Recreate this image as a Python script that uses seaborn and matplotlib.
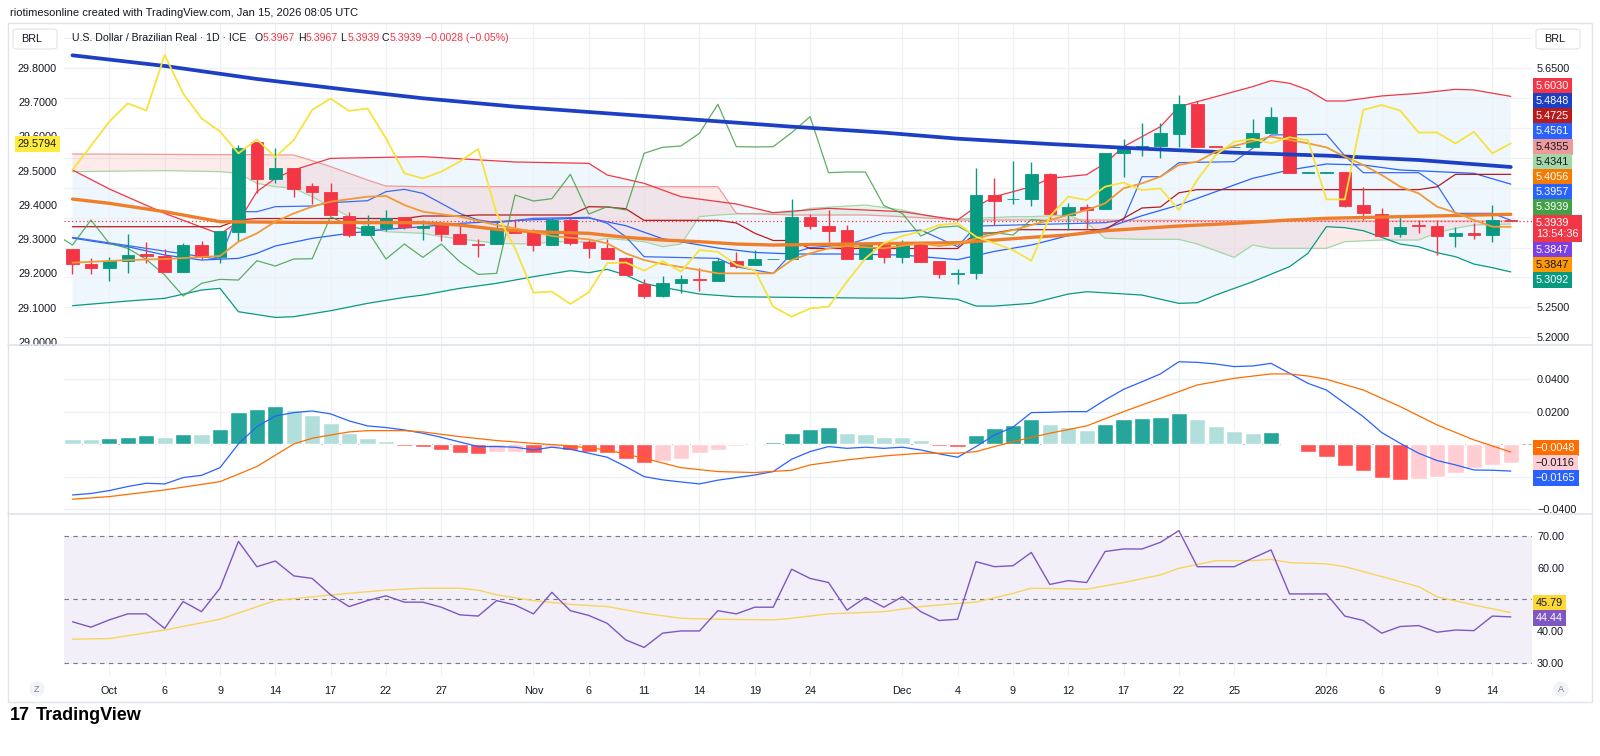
import numpy as np
import pandas as pd
import matplotlib
matplotlib.use('Agg')
import matplotlib.pyplot as plt
import seaborn as sns
from matplotlib.patches import Rectangle, FancyBboxPatch
from matplotlib.lines import Line2D

sns.set_style('white')
plt.rcParams['font.family'] = ['Liberation Sans', 'DejaVu Sans']

# ---------------- data (USD/BRL daily, Sep 29 2025 - Jan 15 2026) ----------------
dates = pd.bdate_range('2025-09-29', '2026-01-15')
days = np.arange(len(dates))

open_ = [5.3475, 5.3224, 5.3152, 5.3280, 5.3386, 5.3358, 5.3096, 5.3542, 5.3336, 5.3765,
         5.5261, 5.4642, 5.4831, 5.4530, 5.4435, 5.4028, 5.3710, 5.3821, 5.4017, 5.3821,
         5.3877, 5.3726, 5.3559, 5.3559, 5.3805, 5.3765, 5.3542, 5.3961, 5.3587, 5.3487,
         5.3319, 5.2889, 5.2689, 5.2901, 5.2979, 5.2945, 5.3280, 5.3202, 5.3302, 5.3308,
         5.4017, 5.3866, 5.3793, 5.3308, 5.3559, 5.3336, 5.3559, 5.3274, 5.3051, 5.3079,
         5.4379, 5.4307, 5.4312, 5.4725, 5.4045, 5.4184, 5.4139, 5.5077, 5.5177, 5.5200,
         5.5400, 5.5903, 5.5200, 5.5177, 5.5177, 5.5423, 5.5691, 5.4753, 5.4753, 5.4764,
         5.4212, 5.4061, 5.3726, 5.3877, 5.3866, 5.3699, 5.3749, 5.3710, 5.3967]
high = [5.3480, 5.3319, 5.3336, 5.3721, 5.3598, 5.3475, 5.3570, 5.3615, 5.3777, 5.5211,
        5.5261, 5.5172, 5.4831, 5.4575, 5.4586, 5.4100, 5.4045, 5.4128, 5.4017, 5.3961,
        5.3933, 5.3877, 5.3648, 5.3933, 5.3972, 5.3805, 5.3989, 5.4017, 5.3627, 5.3637,
        5.3336, 5.2968, 5.3023, 5.3040, 5.3152, 5.3319, 5.3431, 5.3459, 5.3313, 5.4318,
        5.4061, 5.4128, 5.3877, 5.3598, 5.3598, 5.3627, 5.3598, 5.3274, 5.3146, 5.4837,
        5.4670, 5.4948, 5.4926, 5.4753, 5.4240, 5.4223, 5.5077, 5.5311, 5.5579, 5.5579,
        5.6053, 5.5958, 5.5200, 5.5188, 5.5652, 5.5847, 5.5691, 5.4764, 5.4764, 5.4764,
        5.4508, 5.4167, 5.4006, 5.3961, 5.3961, 5.3849, 5.3905, 5.4212, 5.3967]
low = [5.3051, 5.3051, 5.2945, 5.3079, 5.3247, 5.3096, 5.3096, 5.3302, 5.3247, 5.3609,
       5.4418, 5.4586, 5.4340, 5.4229, 5.4045, 5.3682, 5.3710, 5.3782, 5.3805, 5.3627,
       5.3615, 5.3559, 5.3347, 5.3559, 5.3738, 5.3447, 5.3542, 5.3542, 5.3319, 5.3302,
       5.3040, 5.2650, 5.2666, 5.2744, 5.2778, 5.2945, 5.3152, 5.3202, 5.3302, 5.3308,
       5.3805, 5.3598, 5.3308, 5.3308, 5.3236, 5.3247, 5.3263, 5.2995, 5.2884, 5.2979,
       5.3877, 5.4229, 5.4195, 5.3972, 5.3793, 5.3805, 5.4139, 5.4686, 5.5032, 5.4993,
       5.5188, 5.5188, 5.5183, 5.5177, 5.5177, 5.5423, 5.4742, 5.4753, 5.4753, 5.4184,
       5.3961, 5.3693, 5.3682, 5.3749, 5.3375, 5.3503, 5.3643, 5.3598, 5.3939]
close = [5.3219, 5.3157, 5.3280, 5.3375, 5.3358, 5.3096, 5.3542, 5.3336, 5.3777, 5.5172,
         5.4642, 5.4831, 5.4474, 5.4435, 5.4045, 5.3710, 5.3866, 5.3989, 5.3838, 5.3860,
         5.3726, 5.3559, 5.3537, 5.3805, 5.3738, 5.3542, 5.3961, 5.3570, 5.3487, 5.3302,
         5.3040, 5.2689, 5.2901, 5.2968, 5.2956, 5.3280, 5.3191, 5.3308, 5.3313, 5.4017,
         5.3866, 5.3782, 5.3308, 5.3559, 5.3336, 5.3559, 5.3263, 5.3051, 5.3068, 5.4379,
         5.4279, 5.4318, 5.4725, 5.4061, 5.4184, 5.4128, 5.5077, 5.5177, 5.5200, 5.5412,
         5.5897, 5.5188, 5.5183, 5.5188, 5.5423, 5.5691, 5.4753, 5.4764, 5.4764, 5.4201,
         5.4072, 5.3693, 5.3838, 5.3860, 5.3693, 5.3749, 5.3710, 5.3967, 5.3939]

# overlay symbol on the left scale (yellow)
overlay = [29.502, 29.572, 29.643, 29.696, 29.675, 29.837, 29.725, 29.652, 29.614, 29.550,
           29.591, 29.539, 29.589, 29.677, 29.710, 29.674, 29.681, 29.594, 29.492, 29.477,
           29.497, 29.526, 29.563, 29.375, 29.273, 29.144, 29.147, 29.111, 29.145, 29.230,
           29.232, 29.208, 29.236, 29.205, 29.268, 29.263, 29.225, 29.210, 29.103, 29.074,
           29.098, 29.103, 29.176, 29.244, 29.288, 29.309, 29.322, 29.341, 29.346, 29.307,
           29.288, 29.268, 29.237, 29.366, 29.424, 29.414, 29.453, 29.465, 29.443, 29.448,
           29.385, 29.473, 29.545, 29.584, 29.592, 29.580, 29.597, 29.589, 29.416, 29.416,
           29.677, 29.691, 29.675, 29.611, 29.611, 29.579, 29.613, 29.550, 29.5794]

# moving averages (knots at trading-day index)
ma_long_at = [0, 5, 10, 15, 19, 24, 29, 34, 39, 44, 48, 53, 58, 63, 68, 73, 78]
ma_long = [5.6717, 5.6539, 5.6321, 5.6137, 5.5998, 5.5858, 5.5746, 5.5635, 5.5523, 5.5423,
           5.5322, 5.5233, 5.5155, 5.5088, 5.5038, 5.4965, 5.4848]
ma_mid_at = [0, 2, 5, 7, 8, 12, 19, 21, 23, 25, 28, 30, 32, 34, 36, 38, 42, 48, 50, 52,
             54, 56, 58, 60, 63, 66, 68, 72, 78]
ma_mid = [5.4312, 5.4240, 5.4100, 5.3989, 5.3933, 5.3922, 5.3916, 5.3877, 5.3805, 5.3765,
          5.3738, 5.3671, 5.3626, 5.3598, 5.3559, 5.3542, 5.3559, 5.3581, 5.3626, 5.3671,
          5.3710, 5.3782, 5.3821, 5.3860, 5.3905, 5.3961, 5.3989, 5.4017, 5.4056]
ma_fast_at = [0, 3, 5, 8, 9, 10, 11, 12, 13, 14, 16, 17, 18, 19, 21, 23, 25, 26, 28, 29,
              30, 31, 32, 34, 35, 38, 39, 40, 41, 42, 44, 46, 47, 48, 49, 51, 53, 55, 56, 57,
              58, 59, 60, 61, 62, 63, 65, 66, 67, 68, 69, 70, 71, 72, 73, 74, 75, 76, 77, 78]
ma_fast = [5.3247, 5.3291, 5.3308, 5.3358, 5.3598, 5.3738, 5.3933, 5.4072, 5.4184, 5.4268,
           5.4351, 5.4363, 5.4212, 5.4100, 5.4017, 5.3877, 5.3765, 5.3693, 5.3637, 5.3570,
           5.3403, 5.3291, 5.3224, 5.3124, 5.3068, 5.3068, 5.3291, 5.3403, 5.3487, 5.3526,
           5.3487, 5.3570, 5.3526, 5.3559, 5.3654, 5.3793, 5.3961, 5.4128, 5.4240, 5.4491,
           5.4575, 5.4686, 5.4882, 5.4937, 5.5105, 5.5200, 5.5356, 5.5300, 5.5244, 5.5177,
           5.5021, 5.4882, 5.4714, 5.4519, 5.4407, 5.4184, 5.4084, 5.3961, 5.3849, 5.3847]

# Bollinger bands
bb_up_at = [0, 2, 5, 8, 9, 10, 11, 12, 14, 19, 24, 28, 29, 31, 33, 36, 38, 41, 45, 48,
            49, 50, 52, 53, 55, 56, 57, 58, 59, 60, 62, 64, 65, 66, 67, 68, 69, 71, 73, 75,
            76, 78]
bb_up = [5.4798, 5.4480, 5.4072, 5.3726, 5.3933, 5.4435, 5.4658, 5.4798, 5.4993, 5.5021,
         5.4932, 5.4909, 5.4714, 5.4575, 5.4351, 5.4229, 5.4084, 5.4156, 5.4100, 5.3961,
         5.4184, 5.4351, 5.4519, 5.4658, 5.4720, 5.4909, 5.5188, 5.5356, 5.5523, 5.5858,
         5.6025, 5.6193, 5.6293, 5.6249, 5.6137, 5.5953, 5.5953, 5.6037, 5.6081, 5.6148,
         5.6137, 5.6030]
bb_lo_at = [0, 3, 5, 7, 8, 9, 11, 12, 14, 16, 18, 19, 21, 23, 25, 27, 28, 29, 30, 31,
            32, 34, 36, 39, 45, 46, 48, 49, 50, 52, 54, 55, 58, 60, 61, 62, 64, 66, 67, 68,
            69, 70, 71, 72, 73, 74, 75, 76, 77, 78]
bb_lo = [5.2527, 5.2605, 5.2650, 5.2789, 5.2817, 5.2426, 5.2331, 5.2343, 5.2443, 5.2566,
         5.2666, 5.2705, 5.2817, 5.2901, 5.3012, 5.3113, 5.3079, 5.3135, 5.3040, 5.2901,
         5.2834, 5.2722, 5.2677, 5.2666, 5.2650, 5.2677, 5.2633, 5.2521, 5.2521, 5.2566,
         5.2722, 5.2761, 5.2705, 5.2566, 5.2577, 5.2705, 5.2928, 5.3180, 5.3403, 5.3849,
         5.3833, 5.3782, 5.3671, 5.3559, 5.3514, 5.3414, 5.3347, 5.3224, 5.3163, 5.3092]
bb_mid_at = [0, 3, 5, 7, 9, 10, 11, 13, 15, 17, 19, 21, 25, 28, 30, 32, 35, 37, 39, 42,
             45, 48, 50, 52, 54, 56, 58, 60, 62, 64, 66, 68, 70, 72, 74, 76, 78]
bb_mid = [5.3659, 5.3514, 5.3375, 5.3291, 5.3319, 5.3403, 5.3526, 5.3654, 5.3738, 5.3805,
          5.3849, 5.3905, 5.3966, 5.3994, 5.3866, 5.3648, 5.3492, 5.3419, 5.3392, 5.3392,
          5.3375, 5.3297, 5.3436, 5.3542, 5.3699, 5.3821, 5.4033, 5.4212, 5.4435, 5.4658,
          5.4798, 5.4898, 5.4882, 5.4798, 5.4770, 5.4742, 5.4561]

# Ichimoku
conv_at = [0, 8, 9, 10, 11, 13, 14, 16, 17, 18, 19, 20, 21, 22, 23, 25, 28, 29, 30, 31,
           35, 36, 38, 39, 40, 42, 44, 46, 47, 48, 49, 56, 57, 58, 59, 60, 63, 64, 65, 68,
           69, 70, 73, 74, 75, 77, 78]
conv = [5.3671, 5.3302, 5.4100, 5.4100, 5.4184, 5.4195, 5.4251, 5.4284, 5.4435, 5.4474,
        5.4407, 5.4240, 5.4072, 5.3961, 5.3916, 5.3989, 5.4005, 5.3905, 5.3682, 5.3347,
        5.3319, 5.3179, 5.3068, 5.3403, 5.3498, 5.3548, 5.3738, 5.3793, 5.3654, 5.3514,
        5.3860, 5.3916, 5.3966, 5.4686, 5.4686, 5.4921, 5.4937, 5.5161, 5.5384, 5.5395,
        5.5032, 5.4753, 5.4753, 5.4547, 5.4072, 5.4072, 5.3957]
base = [5.3849, 5.3849, 5.3849, 5.3849, 5.3849, 5.3849, 5.3849, 5.3849, 5.3849, 5.3961,
        5.3986, 5.3986, 5.3986, 5.3986, 5.3986, 5.3986, 5.3986, 5.3986, 5.3986, 5.4028,
        5.4028, 5.4028, 5.4045, 5.4045, 5.4045, 5.4045, 5.4045, 5.4045, 5.4184, 5.4178,
        5.4150, 5.3955, 5.3955, 5.3955, 5.3955, 5.3955, 5.3911, 5.3740, 5.3618, 5.3618,
        5.3484, 5.3484, 5.3484, 5.3484, 5.3484, 5.3484, 5.3484, 5.3484, 5.3484, 5.3744,
        5.3744, 5.3799, 5.3799, 5.3799, 5.3799, 5.3799, 5.3799, 5.3989, 5.4162, 5.4179,
        5.4416, 5.4469, 5.4469, 5.4469, 5.4469, 5.4469, 5.4469, 5.4469, 5.4469, 5.4469,
        5.4469, 5.4469, 5.4469, 5.4469, 5.4516, 5.4725, 5.4725, 5.4725, 5.4725]
cloud_at = [0, 5, 8, 9, 10, 11, 12, 13, 14, 15, 16, 17, 19, 20, 23, 25, 26, 28, 29, 31,
            32, 33, 34, 35, 36, 39, 40, 43, 45, 47, 48, 49, 51, 52, 54, 55, 56, 58, 60, 61,
            63, 64, 65, 68, 69, 71, 73, 74, 75, 76, 78]
span_a = [5.4770, 5.4787, 5.4770, 5.4742, 5.4575, 5.4519, 5.4491, 5.4351, 5.4184, 5.4017,
          5.3849, 5.3765, 5.3738, 5.3682, 5.3570, 5.3559, 5.3598, 5.3593, 5.3654, 5.3598,
          5.3514, 5.3559, 5.4017, 5.4045, 5.4061, 5.4084, 5.4156, 5.4212, 5.4128, 5.3989,
          5.3983, 5.3989, 5.4017, 5.4017, 5.4045, 5.3916, 5.3654, 5.3637, 5.3637, 5.3559,
          5.3336, 5.3542, 5.3487, 5.3487, 5.3598, 5.3626, 5.3626, 5.3749, 5.3821, 5.3877,
          5.3894]
span_b = [5.5066, 5.5060, 5.5054, 5.5054, 5.5054, 5.5049, 5.5049, 5.4954, 5.4854, 5.4742,
          5.4630, 5.4530, 5.4519, 5.4519, 5.4519, 5.4519, 5.4519, 5.4519, 5.4519, 5.4519,
          5.4519, 5.4519, 5.4519, 5.4519, 5.4072, 5.4045, 5.4045, 5.4045, 5.4017, 5.3983,
          5.3961, 5.3961, 5.3961, 5.3961, 5.3961, 5.3961, 5.3961, 5.3955, 5.3955, 5.3950,
          5.3950, 5.3950, 5.3950, 5.3944, 5.3944, 5.3944, 5.3944, 5.3944, 5.3944, 5.3944,
          5.3944]
lag_shift = 25

# MACD
macd = [-0.0312, -0.0303, -0.0285, -0.0260, -0.0240, -0.0244, -0.0205, -0.0191, -0.0144, 0.0002,
        0.0109, 0.0174, 0.0195, 0.0205, 0.0187, 0.0144, 0.0113, 0.0103, 0.0088, 0.0068,
        0.0043, 0.0014, -0.0014, -0.0014, -0.0018, -0.0035, -0.0018, -0.0031, -0.0055, -0.0080,
        -0.0137, -0.0199, -0.0219, -0.0232, -0.0244, -0.0221, -0.0205, -0.0189, -0.0168, -0.0092,
        -0.0045, -0.0014, -0.0025, -0.0018, -0.0025, -0.0018, -0.0035, -0.0059, -0.0080, -0.0014,
        0.0057, 0.0105, 0.0195, 0.0197, 0.0201, 0.0201, 0.0273, 0.0338, 0.0385, 0.0433,
        0.0508, 0.0504, 0.0494, 0.0478, 0.0482, 0.0498, 0.0437, 0.0375, 0.0334, 0.0252,
        0.0170, 0.0072, 0.0006, -0.0055, -0.0100, -0.0127, -0.0158, -0.0160, -0.0165]
signal_at = [0, 2, 5, 8, 10, 12, 13, 14, 15, 16, 18, 19, 21, 23, 25, 27, 29, 31, 33, 35,
             37, 39, 40, 42, 44, 46, 48, 49, 50, 51, 53, 55, 57, 59, 61, 63, 65, 66, 67, 68,
             70, 72, 74, 76, 77, 78]
signal = [-0.0338, -0.0322, -0.0281, -0.0230, -0.0137, 0.0002, 0.0037, 0.0057, 0.0076, 0.0084,
          0.0084, 0.0076, 0.0047, 0.0023, 0.0006, -0.0010, -0.0035, -0.0086, -0.0144, -0.0168,
          -0.0174, -0.0160, -0.0127, -0.0096, -0.0072, -0.0055, -0.0055, -0.0045, -0.0014, 0.0016,
          0.0068, 0.0113, 0.0201, 0.0283, 0.0365, 0.0406, 0.0433, 0.0433, 0.0420, 0.0400,
          0.0334, 0.0232, 0.0119, 0.0027, -0.0010, -0.0048]
hist = [0.0031, 0.0031, 0.0037, 0.0047, 0.0057, 0.0047, 0.0064, 0.0064, 0.0092, 0.0197,
        0.0217, 0.0236, 0.0211, 0.0180, 0.0129, 0.0068, 0.0037, 0.0021, -0.0010, -0.0018,
        -0.0035, -0.0051, -0.0062, -0.0049, -0.0045, -0.0051, -0.0025, -0.0035, -0.0045, -0.0055,
        -0.0090, -0.0117, -0.0100, -0.0090, -0.0055, -0.0035, -0.0010, 0.0004, 0.0012, 0.0068,
        0.0092, 0.0105, 0.0072, 0.0064, 0.0043, 0.0043, 0.0027, -0.0010, -0.0018, 0.0057,
        0.0098, 0.0119, 0.0154, 0.0125, 0.0105, 0.0088, 0.0125, 0.0154, 0.0164, 0.0170,
        0.0191, 0.0154, 0.0113, 0.0082, 0.0070, 0.0073, -0.0002, -0.0045, -0.0076, -0.0131,
        -0.0164, -0.0209, -0.0219, -0.0215, -0.0199, -0.0178, -0.0148, -0.0125, -0.0116]

# RSI
rsi = [42.9, 41.2, 43.5, 45.4, 45.4, 40.8, 49.3, 46.1, 53.5, 68.3,
       60.3, 62.1, 57.4, 56.6, 51.4, 47.7, 49.6, 51.1, 49.1, 49.1,
       47.5, 45.1, 44.7, 49.6, 48.2, 45.4, 52.2, 46.4, 44.9, 42.4,
       37.2, 34.8, 39.3, 40.0, 40.0, 46.4, 45.4, 47.5, 47.5, 59.5,
       56.6, 55.3, 46.6, 50.6, 47.5, 50.8, 46.1, 43.3, 43.7, 61.9,
       60.3, 60.6, 64.8, 54.7, 55.9, 55.3, 65.1, 65.9, 65.9, 68.0,
       71.7, 60.3, 60.3, 60.3, 63.0, 65.6, 51.7, 51.7, 51.7, 44.7,
       43.3, 39.3, 41.4, 41.7, 39.6, 40.3, 40.1, 44.7, 44.44]
rsi_ma_at = [0, 2, 5, 8, 11, 13, 15, 17, 19, 21, 22, 23, 25, 27, 29, 31, 33, 35, 38, 39,
             41, 44, 46, 48, 49, 51, 52, 55, 57, 59, 60, 62, 64, 65, 66, 68, 69, 71, 73, 74,
             76, 78]
rsi_ma = [37.4, 37.6, 40.3, 43.7, 49.6, 50.8, 51.9, 52.9, 53.5, 53.5, 52.9, 51.4, 49.6, 48.4,
          47.7, 45.6, 44.0, 43.7, 43.5, 44.0, 45.4, 46.1, 47.7, 48.7, 49.1, 51.9, 53.5, 53.2,
          55.3, 57.7, 59.8, 62.2, 62.2, 62.6, 61.6, 61.2, 60.3, 57.2, 54.0, 50.8, 48.2, 45.79]

tick_dates = ['2025-10-01', '2025-10-06', '2025-10-09', '2025-10-14', '2025-10-17', '2025-10-22',
              '2025-10-27', '2025-11-03', '2025-11-06', '2025-11-11', '2025-11-14', '2025-11-19',
              '2025-11-24', '2025-12-01', '2025-12-04', '2025-12-09', '2025-12-12', '2025-12-17',
              '2025-12-22', '2025-12-25', '2026-01-01', '2026-01-06', '2026-01-09', '2026-01-14']
tick_labels = ['Oct', '6', '9', '14', '17', '22', '27', 'Nov', '6', '11', '14', '19', '24',
               'Dec', '4', '9', '12', '17', '22', '25', '2026', '6', '9', '14']

# last-value tags on the price scale
price_tags = [(5.6030, '#F23645', 'white'), (5.4848, '#1C3FC4', 'white'), (5.4725, '#B71C1C', 'white'),
              (5.4561, '#2962FF', 'white'), (5.4355, '#EF9A9A', '#131722'), (5.4341, '#A5D6A7', '#131722'),
              (5.4056, '#F57C00', 'white'), (5.3957, '#2962FF', 'white'), (5.3939, '#43A047', 'white'),
              (5.3939, '#F23645', 'white'), (5.3847, '#7B3FE4', 'white'), (5.3847, '#FF9800', '#131722'),
              (5.3092, '#089981', 'white')]
macd_tags = [(-0.0048, '#FF6D00', 'white'), (-0.0116, '#FFCDD2', '#131722'), (-0.0165, '#2962FF', 'white')]
rsi_tags = [(45.79, '#FDD835', '#131722'), (44.44, '#7E57C2', 'white')]

# ---------------- figure ----------------
W, H = 1600, 756
fig = plt.figure(figsize=(W / 100, H / 100), dpi=100)
fig.patch.set_facecolor('white')

def rect(x0, y0, x1, y1):
    return [x0 / W, 1 - y1 / H, (x1 - x0) / W, (y1 - y0) / H]

def fy(y):
    return 1 - y / H

TXT = '#131722'
GRID = '#EEF0F5'
FS = 7.8

ax = fig.add_axes(rect(64, 24, 1532, 344))
ax_m = fig.add_axes(rect(64, 345, 1532, 513))
ax_r = fig.add_axes(rect(64, 514, 1532, 676))

tick_pos = dates.get_indexer(pd.to_datetime(tick_dates))
for a in (ax, ax_m, ax_r):
    a.set_xlim(-0.46, 79.15)
    for s in a.spines.values():
        s.set_visible(False)
    a.set_xticks(tick_pos)
    a.grid(True, color=GRID, lw=0.9)
    a.set_axisbelow(True)
    a.tick_params(axis='both', length=0, labelsize=FS, labelcolor=TXT)
ax.tick_params(labelbottom=False)
ax_m.tick_params(labelbottom=False)
ax_r.set_xticklabels(tick_labels)
ax_r.tick_params(axis='x', pad=7)

# ---- main pane ----
ax.set_ylim(5.1886, 5.7241)
pt = np.round(np.arange(5.20, 5.7001, 0.05), 2)
ax.set_yticks(pt)
ax.set_yticklabels([f'{t:.4f}' if t in (5.20, 5.25, 5.65) else '' for t in pt])

ax.fill(np.r_[bb_up_at, bb_lo_at[::-1]], np.r_[bb_up, bb_lo[::-1]], color='#2196F3', alpha=0.07, lw=0, zorder=0.5)
ca, sa, sb = np.array(cloud_at), np.array(span_a), np.array(span_b)
ax.fill_between(ca, sa, sb, where=sa >= sb, interpolate=True, color='#43A047', alpha=0.10, lw=0, zorder=0.6)
ax.fill_between(ca, sa, sb, where=sa < sb, interpolate=True, color='#F44336', alpha=0.10, lw=0, zorder=0.6)

thin = dict(ax=ax, linewidth=0.9, zorder=2)
sns.lineplot(x=cloud_at, y=span_a, color='#A5D6A7', **thin)
sns.lineplot(x=cloud_at, y=span_b, color='#EF9A9A', **thin)
sns.lineplot(x=bb_up_at, y=bb_up, color='#F23645', **thin)
sns.lineplot(x=bb_lo_at, y=bb_lo, color='#089981', **thin)
sns.lineplot(x=bb_mid_at, y=bb_mid, color='#2962FF', **thin)
sns.lineplot(x=conv_at, y=conv, color='#3F6BF0', **thin)
sns.lineplot(x=days, y=base, color='#B71C1C', **thin)
sns.lineplot(x=days - lag_shift, y=close, color='#43A047', alpha=0.85, **thin)

ax.axhline(close[-1], color='#F23645', lw=0.9, ls=(0, (1, 2)), zorder=3)

# candles
ohlc = pd.DataFrame({'open': open_, 'high': high, 'low': low, 'close': close}, index=days)
ccol = np.where(ohlc['close'] >= ohlc['open'], '#089981', '#F23645')
ax.vlines(days, ohlc['low'], ohlc['high'], colors=ccol, lw=1.0, zorder=4)
ax.bar(days, (ohlc['close'] - ohlc['open']).abs(), bottom=ohlc[['open', 'close']].min(axis=1),
       width=0.68, color=ccol, edgecolor=ccol, lw=0.6, zorder=4.5)

sns.lineplot(x=ma_long_at, y=ma_long, color='#1C3FC4', linewidth=2.7, ax=ax, zorder=5)
sns.lineplot(x=ma_mid_at, y=ma_mid, color='#EE7E2A', linewidth=2.4, ax=ax, zorder=5)
sns.lineplot(x=ma_fast_at, y=ma_fast, color='#F29A34', linewidth=1.3, ax=ax, zorder=5)

ax2 = ax.twinx()
ax2.set_ylim(28.9942, 29.9274)
lt = np.round(np.arange(29.0, 29.801, 0.1), 1)
ax2.set_yticks(lt)
ax2.set_yticklabels([f'{t:.4f}' for t in lt])
for s in ax2.spines.values():
    s.set_visible(False)
sns.lineplot(x=days, y=overlay, color='#F7E23E', linewidth=1.3, ax=ax2)
ax2.set_xlim(-0.46, 79.15)

# ---- MACD pane ----
ax_m.set_ylim(-0.0423, 0.0611)
mt = [-0.04, -0.02, 0.0, 0.02, 0.04]
ax_m.set_yticks(mt)
ax_m.set_yticklabels(['\u22120.0400', '', '', '0.0200', '0.0400'])
h = np.array(hist)
prev = np.r_[h[0], h[:-1]]
hcol = np.where(h >= 0, np.where(h > prev, '#26A69A', '#B2DFDB'), np.where(h > prev, '#FFCDD2', '#FF5252'))
ax_m.bar(days, h, width=0.88, color=hcol, zorder=2)
ax_m.axhline(0, color='#B2B5BE', lw=0.7, ls=(0, (3, 3)), zorder=1.5)
sns.lineplot(x=days, y=macd, color='#2962FF', linewidth=0.9, ax=ax_m, zorder=3)
sns.lineplot(x=signal_at, y=signal, color='#FF6D00', linewidth=0.9, ax=ax_m, zorder=3)

# ---- RSI pane ----
ax_r.set_ylim(25.77, 76.95)
ax_r.set_yticks([30, 40, 50, 60, 70])
ax_r.set_yticklabels(['30.00', '40.00', '', '60.00', '70.00'])
ax_r.axhspan(30, 70, color='#7E57C2', alpha=0.09, lw=0, zorder=0.5)
for lvl in (30, 50, 70):
    ax_r.axhline(lvl, color='#787B86', lw=0.8, ls=(0, (4, 4)), zorder=1)
sns.lineplot(x=rsi_ma_at, y=rsi_ma, color='#F6D55C', linewidth=1.0, ax=ax_r, zorder=2)
sns.lineplot(x=days, y=rsi, color='#7E57C2', linewidth=1.0, ax=ax_r, zorder=3)

# price scales: indicator panes and main price on the right, overlay on the left
for a in (ax, ax_m, ax_r):
    a.yaxis.tick_right()
    a.tick_params(axis='y', length=0, pad=3.6, labelsize=FS, labelcolor=TXT)
ax2.yaxis.tick_left()
ax2.tick_params(axis='y', length=0, labelsize=FS, labelcolor=TXT, pad=5)

for a in (ax, ax2, ax_m, ax_r):
    a.set_xlabel('')
    a.set_ylabel('')

# ---------------- chrome: frame, separators, tags ----------------
fig.add_artist(Rectangle((8 / W, fy(702)), 1584 / W, 679 / H, transform=fig.transFigure,
                         fill=False, ec='#E0E3EB', lw=1))
for yy in (344.5, 513.5):
    fig.add_artist(Line2D([8 / W, 1592 / W], [fy(yy), fy(yy)], color='#E0E3EB', lw=1.2))

def tag(x, y, s, bg, fg, ha='left'):
    fig.text(x / W, fy(y), s, ha=ha, va='center', fontsize=FS, color=fg, linespacing=1.15,
             bbox=dict(boxstyle='square,pad=0.28', fc=bg, ec='none'))

def fmt(v, nd):
    s = f'{abs(v):.{nd}f}'
    return ('\u2212' + s) if v < 0 else s

tag_y = [85.7, 101, 116.3, 131.3, 146.7, 162, 176.7, 191.7, 206.7, 228.3, 250, 265.3, 280]
for i, ((v, bg, fg), yy) in enumerate(zip(price_tags, tag_y)):
    s = fmt(v, 4) + ('\n13:54:36' if i == 9 else '')
    tag(1536, yy, s, bg, fg)
for (v, bg, fg), yy in zip(macd_tags, [447.7, 463.3, 478.3]):
    tag(1536, yy, fmt(v, 4), bg, fg)
for (v, bg, fg), yy in zip(rsi_tags, [603.3, 618.3]):
    tag(1536, yy, fmt(v, 2), bg, fg)
tag(57, 144, f'{overlay[-1]:.4f}', '#FFEB3B', TXT, ha='right')

# header texts
fig.text(10 / W, fy(13), 'riotimesonline created with TradingView.com, Jan 15, 2026 08:05 UTC',
         fontsize=8, color=TXT, va='center')
for x0 in (13, 1536):
    fig.add_artist(FancyBboxPatch((x0 / W, fy(49)), 44 / W, 20 / H, boxstyle='round,pad=0,rounding_size=0.003',
                                  transform=fig.transFigure, fc='white', ec='#E0E3EB', lw=0.8))
    fig.text((x0 + 8) / W, fy(39), 'BRL', fontsize=FS, color=TXT, va='center')
RED = '#F23645'
fig.text(72 / W, fy(38), 'U.S. Dollar / Brazilian Real \u00b7 1D \u00b7 ICE', fontsize=7.6, color=TXT, va='center')
for x0, lab, val in [(255, 'O', open_[-1]), (298, 'H', high[-1]), (340, 'L', low[-1]), (382, 'C', close[-1])]:
    fig.text(x0 / W, fy(38), lab, fontsize=7.6, color=TXT, va='center')
    fig.text((x0 + 8) / W, fy(38), f'{val:.4f}', fontsize=7.6, color=RED, va='center')
chg = close[-1] - close[-2]
fig.text(425 / W, fy(38), f'{fmt(chg, 4)} ({fmt(chg / close[-2] * 100, 2)}%)', fontsize=7.6, color=RED, va='center')

# bottom corner buttons and logo
for x0, s in ((37, 'Z'), (1561, 'A')):
    fig.text(x0 / W, fy(689), s, fontsize=6.5, color='#787B86', ha='center', va='center',
             bbox=dict(boxstyle='circle,pad=0.35', fc='#F0F3FA', ec='none'))
fig.text(10 / W, fy(716), '17', fontsize=13, fontweight='heavy', color='black', va='center')
fig.text(36 / W, fy(716), 'TradingView', fontsize=13, fontweight='bold', color='black', va='center')

fig.savefig('out.png', dpi=100)
